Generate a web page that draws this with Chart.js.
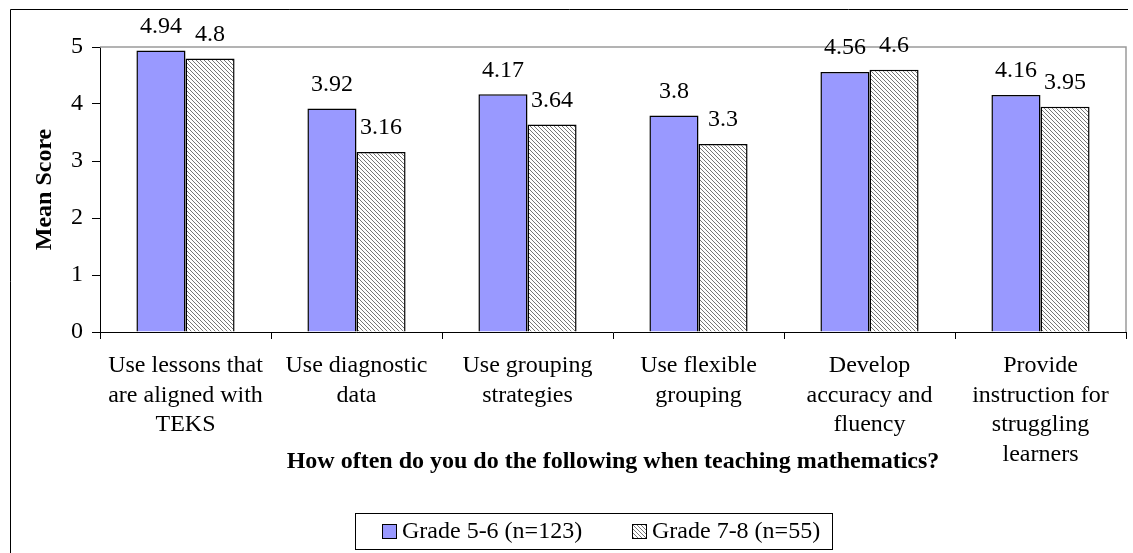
<!DOCTYPE html>
<html>
<head>
<meta charset="utf-8">
<script src="https://cdn.jsdelivr.net/npm/chart.js@4.4.1/dist/chart.umd.min.js"></script>
<style>
  html, body { margin: 0; padding: 0; background: #fff; }
  canvas { display: block; }
</style>
</head>
<body>
<canvas id="myChart" width="1133" height="553"></canvas>
<script>
const categories = [
    ['Use lessons that', 'are aligned with', 'TEKS'],
    ['Use diagnostic', 'data'],
    ['Use grouping', 'strategies'],
    ['Use flexible', 'grouping'],
    ['Develop', 'accuracy and', 'fluency'],
    ['Provide', 'instruction for', 'struggling', 'learners']
];
const grade56 = [4.94, 3.92, 4.17, 3.8, 4.56, 4.16];
const grade78 = [4.8, 3.16, 3.64, 3.3, 4.6, 3.95];
const seriesNames = ['Grade 5-6 (n=123)', 'Grade 7-8 (n=55)'];
const yTicks = [0, 1, 2, 3, 4, 5];

const serif = "'Times New Roman', 'Liberation Serif', serif";

// diagonal hatch for the second series
function makeHatch() {
    const c = document.createElement('canvas');
    c.width = 4;
    c.height = 4;
    const g = c.getContext('2d');
    g.fillStyle = '#fff';
    g.fillRect(0, 0, 4, 4);
    g.strokeStyle = '#777';
    g.lineWidth = 1;
    g.beginPath();
    g.moveTo(-1, -1); g.lineTo(5, 5);
    g.moveTo(-1, 3); g.lineTo(1, 5);
    g.moveTo(3, -1); g.lineTo(5, 1);
    g.stroke();
    return g.createPattern(c, 'repeat');
}
const hatch = makeHatch();
const blue = '#9999ff';

// page frame, plot frame, axis title and boxed legend
const decorations = {
    id: 'decorations',
    beforeDraw(chart) {
        const ctx = chart.ctx;
        ctx.save();
        ctx.fillStyle = '#fff';
        ctx.fillRect(0, 0, chart.width, chart.height);
        ctx.strokeStyle = '#000';
        ctx.lineWidth = 1;
        ctx.beginPath();
        ctx.moveTo(10.5, chart.height);
        ctx.lineTo(10.5, 9.5);
        ctx.lineTo(1128, 9.5);
        ctx.stroke();
        ctx.restore();
    },
    beforeDatasetsDraw(chart) {
        const a = chart.chartArea;
        const ctx = chart.ctx;
        ctx.save();
        ctx.strokeStyle = '#9a9a9a';
        ctx.lineWidth = 1.5;
        ctx.beginPath();
        ctx.moveTo(a.left, a.top);
        ctx.lineTo(a.right, a.top);
        ctx.lineTo(a.right, a.bottom);
        ctx.stroke();
        ctx.restore();
    },
    afterDraw(chart) {
        const a = chart.chartArea;
        const ctx = chart.ctx;
        ctx.save();
        ctx.fillStyle = '#000';
        ctx.font = 'bold 24px ' + serif;
        ctx.textAlign = 'center';
        ctx.textBaseline = 'middle';
        ctx.fillText('How often do you do the following when teaching mathematics?', (a.left + a.right) / 2, 462);

        // legend box
        ctx.strokeStyle = '#000';
        ctx.lineWidth = 1;
        ctx.strokeRect(355.5, 513.5, 477, 36);
        ctx.font = '24px ' + serif;
        ctx.textAlign = 'left';
        const items = [
            { x: 382, fill: blue },
            { x: 632, fill: hatch }
        ];
        items.forEach((it, i) => {
            ctx.fillStyle = it.fill;
            ctx.fillRect(it.x, 524, 14, 14);
            ctx.strokeRect(it.x + 0.5, 524.5, 14, 14);
            ctx.fillStyle = '#000';
            ctx.fillText(seriesNames[i], it.x + 20, 532);
        });
        ctx.restore();
    }
};

// values printed above each bar
const valueLabels = {
    id: 'valueLabels',
    afterDatasetsDraw(chart) {
        const ctx = chart.ctx;
        ctx.save();
        ctx.font = '24px ' + serif;
        ctx.fillStyle = '#000';
        ctx.textAlign = 'center';
        ctx.textBaseline = 'middle';
        chart.data.datasets.forEach((ds, i) => {
            chart.getDatasetMeta(i).data.forEach((bar, j) => {
                ctx.fillText(String(ds.data[j]), bar.x, bar.y - 24);
            });
        });
        ctx.restore();
    }
};

new Chart(document.getElementById('myChart'), {
    type: 'bar',
    data: {
        labels: categories,
        datasets: [
            {
                label: seriesNames[0],
                data: grade56,
                backgroundColor: blue,
                borderColor: '#000',
                borderWidth: 1.5,
                categoryPercentage: 0.574,
                barPercentage: 1.0
            },
            {
                label: seriesNames[1],
                data: grade78,
                backgroundColor: hatch,
                borderColor: '#000',
                borderWidth: 1.5,
                categoryPercentage: 0.574,
                barPercentage: 1.0
            }
        ]
    },
    options: {
        responsive: false,
        animation: false,
        devicePixelRatio: 1,
        layout: { padding: { left: 10, right: 7, top: 47, bottom: 0 } },
        plugins: {
            legend: { display: false },
            tooltip: { enabled: false }
        },
        scales: {
            x: {
                grid: {
                    offset: true,
                    drawOnChartArea: false,
                    tickLength: 7,
                    color: '#000'
                },
                border: { color: '#000', width: 1 },
                ticks: {
                    color: '#000',
                    padding: 12,
                    maxRotation: 0,
                    autoSkip: false,
                    font: { family: serif, size: 24, lineHeight: 1.23 }
                },
                afterFit(scale) { scale.height = 221; }
            },
            y: {
                min: 0,
                max: 5,
                afterBuildTicks(scale) {
                    scale.ticks = yTicks.map(v => ({ value: v }));
                },
                grid: {
                    drawOnChartArea: false,
                    tickLength: 8,
                    color: '#000'
                },
                border: { color: '#000', width: 1 },
                ticks: {
                    color: '#000',
                    padding: 9,
                    font: { family: serif, size: 24 }
                },
                title: {
                    display: true,
                    text: 'Mean Score',
                    color: '#000',
                    padding: { top: 20, bottom: 0 },
                    font: { family: serif, size: 24, weight: 'bold' }
                },
                afterFit(scale) { scale.width = 90; }
            }
        }
    },
    plugins: [decorations, valueLabels]
});
</script>
</body>
</html>
